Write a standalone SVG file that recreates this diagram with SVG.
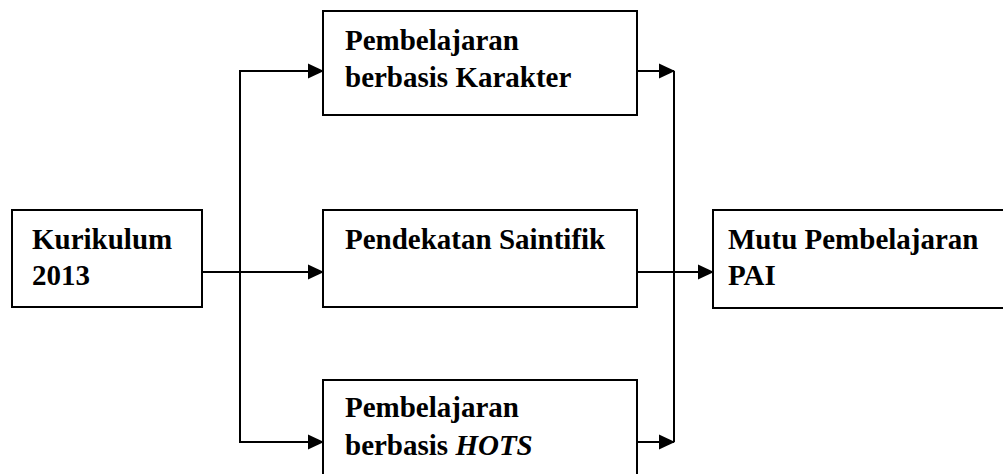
<svg xmlns="http://www.w3.org/2000/svg" width="1003" height="474" viewBox="0 0 1003 474">
<style>
.box{fill:#fff;stroke:#000;stroke-width:2}
.lbl{font-family:"Liberation Serif","Times New Roman",serif;font-weight:bold;font-size:29px;fill:#000}
.con{fill:none;stroke:#000;stroke-width:2}
</style>
<defs>
<marker id="arr" markerUnits="userSpaceOnUse" markerWidth="18" markerHeight="18" refX="15" refY="9" orient="auto">
<path d="M0,1.5 L16,9 L0,16.5 Z" fill="#000"/>
</marker>
</defs>
<rect width="1003" height="474" fill="#fff"/>
<g id="connectors">
<path class="con" d="M202,272 H323" marker-end="url(#arr)"/>
<path class="con" d="M240,272 V71 H323" marker-end="url(#arr)"/>
<path class="con" d="M240,272 V442 H323" marker-end="url(#arr)"/>
<path class="con" d="M637,71 H674" marker-end="url(#arr)"/>
<path class="con" d="M637,442 H674" marker-end="url(#arr)"/>
<path class="con" d="M674,71 V442"/>
<path class="con" d="M637,272 H713" marker-end="url(#arr)"/>
</g>
<g id="kurikulum">
<rect class="box" x="12" y="210" width="190" height="97"/>
<text class="lbl" x="32" y="249">Kurikulum</text>
<text class="lbl" x="32" y="285">2013</text>
</g>
<g id="karakter">
<rect class="box" x="323" y="11" width="314" height="104"/>
<text class="lbl" x="345" y="50">Pembelajaran</text>
<text class="lbl" x="345" y="87">berbasis Karakter</text>
</g>
<g id="saintifik">
<rect class="box" x="323" y="210" width="314" height="97"/>
<text class="lbl" x="345" y="249">Pendekatan Saintifik</text>
</g>
<g id="hots">
<rect class="box" x="323" y="380" width="314" height="110"/>
<text class="lbl" x="345" y="417">Pembelajaran</text>
<text class="lbl" x="345" y="455">berbasis <tspan font-style="italic">HOTS</tspan></text>
</g>
<g id="mutu">
<rect class="box" x="713" y="210" width="300" height="98"/>
<text class="lbl" x="728" y="249">Mutu Pembelajaran</text>
<text class="lbl" x="728" y="285">PAI</text>
</g>
</svg>
